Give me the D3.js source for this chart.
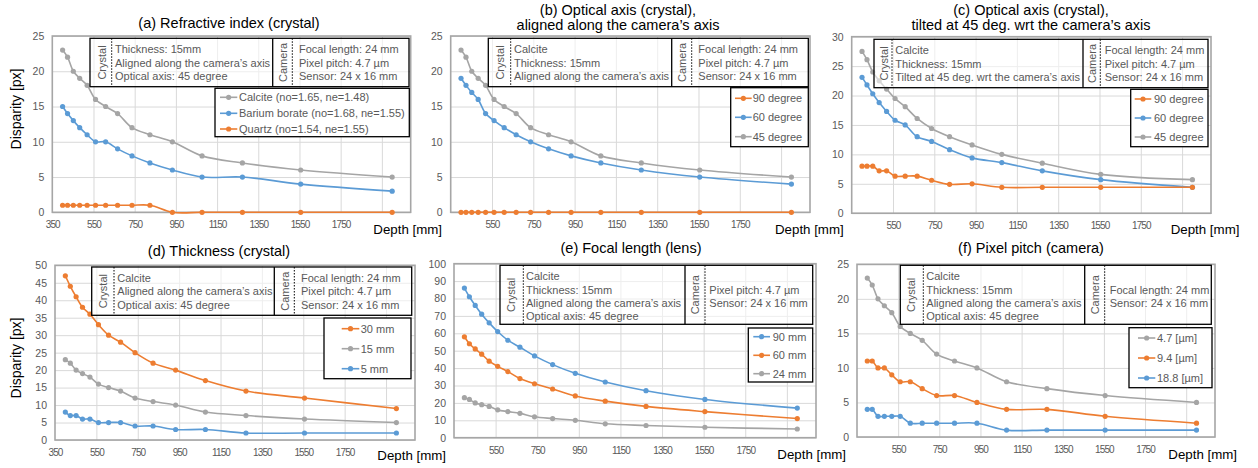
<!DOCTYPE html>
<html>
<head>
<meta charset="utf-8">
<script src="https://cdn.jsdelivr.net/npm/d3@7"></script>
<style>
  body { margin: 0; background: #fff; }
  svg { display: block; font-family: "Liberation Sans", Arial, sans-serif; }
</style>
</head>
<body>
<svg id="chart" width="1258" height="468"></svg>
<script>
// depth of the scene [mm], same for every panel
const depth = [400, 424, 452, 483, 519, 560, 609, 667, 737, 824, 933, 1077, 1273, 1556, 2000];
const xTicks = [350, 550, 750, 950, 1150, 1350, 1550, 1750, 1950];

// (a) refractive index
const legendA = ["Calcite (no=1.65, ne=1.48)", "Barium borate (no=1.68, ne=1.55)", "Quartz (no=1.54, ne=1.55)"];
const calciteA = [23, 22, 20, 19, 18, 16, 15, 14, 12, 11, 10, 8, 7, 6, 5];
const bariumA = [15, 14, 13, 12, 11, 10, 10, 9, 8, 7, 6, 5, 5, 4, 3];
const quartzA = [1, 1, 1, 1, 1, 1, 1, 1, 1, 1, 0, 0, 0, 0, 0];

// (b) optical axis, aligned
const legendB = ["90 degree", "60 degree", "45 degree"];
const deg90B = [0, 0, 0, 0, 0, 0, 0, 0, 0, 0, 0, 0, 0, 0, 0];
const deg60B = [19, 18, 17, 16, 14, 13, 12, 11, 10, 9, 8, 7, 6, 5, 4];
const deg45B = [23, 22, 20, 19, 18, 16, 15, 14, 12, 11, 10, 8, 7, 6, 5];

// (c) optical axis, tilted
const legendC = ["90 degree", "60 degree", "45 degree"];
const deg90C = [8.0, 8.0, 8.0, 7.2, 7.2, 6.3, 6.3, 6.3, 5.6, 4.9, 5.0, 4.4, 4.4, 4.4, 4.4];
const deg60C = [23.1, 21.8, 20.3, 18.8, 17.3, 15.8, 15.0, 13.0, 12.2, 10.8, 9.4, 8.6, 7.2, 5.7, 4.4];
const deg45C = [27.5, 26.1, 24.0, 22.5, 21.1, 19.5, 18.1, 16.1, 14.4, 13.0, 11.6, 10.0, 8.5, 6.6, 5.7];

// (d) thickness
const legendD = ["30 mm", "15 mm", "5 mm"];
const t30D = [47, 44, 41, 38, 36, 33, 30, 28, 25, 22, 20, 17, 14, 12, 9];
const t15D = [23, 22, 20, 19, 18, 16, 15, 14, 12, 11, 10, 8, 7, 6, 5];
const t5D = [8, 7, 7, 6, 6, 5, 5, 5, 4, 4, 3, 3, 2, 2, 2];

// (e) focal length
const legendE = ["90 mm", "60 mm", "24 mm"];
const f90E = [86, 81, 76, 71, 66, 61, 56, 52, 47, 42, 37, 32, 27, 22, 17];
const f60E = [58, 54, 51, 48, 44, 41, 38, 34, 31, 28, 24, 21, 18, 15, 11];
const f24E = [23, 22, 20, 19, 18, 16, 15, 14, 12, 11, 10, 8, 7, 6, 5];

// (f) pixel pitch
const legendF = ["4.7 [µm]", "9.4 [µm]", "18.8 [µm]"];
const p47F = [23, 22, 20, 19, 18, 16, 15, 14, 12, 11, 10, 8, 7, 6, 5];
const p94F = [11, 11, 10, 10, 9, 8, 8, 7, 6, 6, 5, 4, 4, 3, 2];
const p188F = [4, 4, 3, 3, 3, 3, 2, 2, 2, 2, 2, 1, 1, 1, 1];

const GRAY = "#a5a5a5", BLUE = "#5b9bd5", ORANGE = "#ed7d31";
const TXT = "#595959";

const svg = d3.select("#chart");

function drawPanel(p) {
  const g = svg.append("g");
  const x = d3.scaleLinear().domain([350, 2090]).range([p.left, p.right]);
  const y = d3.scaleLinear().domain([0, p.yMax]).range([p.bottom, p.top]);
  const yTicks = d3.range(0, p.yMax + p.yStep / 2, p.yStep);

  // gridlines
  g.append("g").attr("transform", `translate(${p.left},0)`)
    .call(d3.axisLeft(y).tickValues(yTicks).tickSize(-(p.right - p.left)).tickFormat(""))
    .call(a => a.select(".domain").remove())
    .selectAll("line").attr("stroke", "#d9d9d9");
  g.append("g").attr("transform", `translate(0,${p.bottom})`)
    .call(d3.axisBottom(x).tickValues(xTicks.slice(1)).tickSize(-(p.bottom - p.top)).tickFormat(""))
    .call(a => a.select(".domain").remove())
    .selectAll("line").attr("stroke", "#d9d9d9");

  // tick labels
  const ya = g.append("g").attr("transform", `translate(${p.left},0)`)
    .call(d3.axisLeft(y).tickValues(yTicks).tickSize(0).tickPadding(8));
  ya.select(".domain").remove();
  ya.attr("font-family", null).attr("font-size", null);
  ya.selectAll("text").attr("fill", TXT).style("font-size", "10.5px");

  const shown = xTicks.filter(t => t < 1950 && (p.show350 || t > 350));
  const xa = g.append("g").attr("transform", `translate(0,${p.bottom})`)
    .call(d3.axisBottom(x).tickValues(shown).tickFormat(d3.format("d")).tickSize(0).tickPadding(9));
  xa.select(".domain").remove();
  xa.attr("font-family", null).attr("font-size", null);
  xa.selectAll("text").attr("fill", TXT).style("font-size", "10px").style("letter-spacing", "-0.9px");

  // plot border
  g.append("rect")
    .attr("x", p.left).attr("y", p.top)
    .attr("width", p.right - p.left).attr("height", p.bottom - p.top)
    .attr("fill", "none").attr("stroke", "#a6a6a6").attr("stroke-width", 1.6);

  // series
  const line = d3.line()
    .x((d, i) => x(depth[i]))
    .y(d => y(d))
    .curve(d3.curveCatmullRom.alpha(0.5));
  p.series.forEach(s => {
    g.append("path").attr("d", line(s.values))
      .attr("fill", "none").attr("stroke", s.color).attr("stroke-width", 1.6);
    g.selectAll(null).data(s.values).join("circle")
      .attr("cx", (d, i) => x(depth[i])).attr("cy", d => y(d))
      .attr("r", 2.6).attr("fill", s.color);
  });

  // info box
  const b = p.box;
  g.append("rect").attr("x", b.x0).attr("y", b.y0)
    .attr("width", b.x1 - b.x0).attr("height", b.y1 - b.y0)
    .attr("fill", "#fff").attr("fill-opacity", 0.55)
    .attr("stroke", "#000").attr("stroke-width", 1.3);
  g.append("line").attr("x1", b.solid).attr("x2", b.solid).attr("y1", b.y0).attr("y2", b.y1)
    .attr("stroke", "#000").attr("stroke-width", 1.3);
  [b.dot1, b.dot2].forEach(dx => {
    g.append("line").attr("x1", dx).attr("x2", dx).attr("y1", b.y0).attr("y2", b.y1)
      .attr("stroke", "#000").attr("stroke-width", 1).attr("stroke-dasharray", "1.5,1.5");
  });
  const cy = (b.y0 + b.y1) / 2;
  [["Crystal", b.crysLbl], ["Camera", b.camLbl]].forEach(([t, lx]) => {
    g.append("text").attr("transform", `translate(${lx + 4},${cy}) rotate(-90)`)
      .attr("text-anchor", "middle").attr("fill", TXT).style("font-size", "11px").text(t);
  });
  b.crys.forEach((t, i) => {
    g.append("text").attr("x", b.crysX).attr("y", b.row0 + i * b.rowStep)
      .attr("fill", TXT).style("font-size", "11px").text(t);
  });
  b.cam.forEach((t, i) => {
    g.append("text").attr("x", b.camX).attr("y", b.row0 + (i + b.camStart) * b.rowStep)
      .attr("fill", TXT).style("font-size", "11px").text(t);
  });

  // legend
  const L = p.legend;
  g.append("rect").attr("x", L.x0).attr("y", L.y0)
    .attr("width", L.x1 - L.x0).attr("height", L.y1 - L.y0)
    .attr("fill", "#fff").attr("stroke", "#000").attr("stroke-width", 1.3);
  p.series.slice().sort((a, c) => a.order - c.order).forEach((s, i) => {
    const ry = L.rows[i];
    g.append("line").attr("x1", L.l0).attr("x2", L.l1).attr("y1", ry).attr("y2", ry)
      .attr("stroke", s.color).attr("stroke-width", 1.6);
    g.append("circle").attr("cx", (L.l0 + L.l1) / 2).attr("cy", ry).attr("r", 2.6).attr("fill", s.color);
    g.append("text").attr("x", L.tx).attr("y", ry + 4)
      .attr("fill", TXT).style("font-size", "11px").text(s.name);
  });

  // titles
  p.title.forEach((t, i) => {
    g.append("text").attr("x", p.titleX).attr("y", p.titleY + i * 14.5)
      .attr("text-anchor", "middle").attr("fill", "#000").style("font-size", "14.5px").text(t);
  });
  g.append("text").attr("x", p.depthX).attr("y", p.depthY)
    .attr("fill", "#000").style("font-size", "13.3px").text("Depth [mm]");
  if (p.dispY) {
    g.append("text").attr("transform", `translate(21,${p.dispY}) rotate(-90)`)
      .attr("text-anchor", "middle").attr("fill", "#000").style("font-size", "14px").text("Disparity [px]");
  }
}

const camFull = ["Focal length: 24 mm", "Pixel pitch: 4.7 µm", "Sensor: 24 x 16 mm"];

drawPanel({
  left: 52.3, right: 410.7, top: 36, bottom: 212.3, yMax: 25, yStep: 5, show350: true,
  title: ["(a) Refractive index (crystal)"], titleX: 229, titleY: 28,
  depthX: 373.3, depthY: 234, dispY: 109,
  series: [
    { name: legendA[0], values: calciteA, color: GRAY, order: 0 },
    { name: legendA[1], values: bariumA, color: BLUE, order: 1 },
    { name: legendA[2], values: quartzA, color: ORANGE, order: 2 }
  ],
  box: { x0: 90, x1: 409, y0: 38.3, y1: 86.7, solid: 272.7, dot1: 111.7, dot2: 292.3,
    crysLbl: 101.7, camLbl: 282.7, crysX: 115, camX: 299, row0: 53.3, rowStep: 13.4, camStart: 0,
    crys: ["Thickness: 15mm", "Aligned along the camera’s axis", "Optical axis: 45 degree"], cam: camFull },
  legend: { x0: 215, x1: 409.3, y0: 88.3, y1: 136.7, rows: [97.3, 113.3, 129], l0: 220, l1: 237.3, tx: 239 }
});

drawPanel({
  left: 450.7, right: 810, top: 36, bottom: 212.3, yMax: 25, yStep: 5, show350: false,
  title: ["(b) Optical axis (crystal),", "aligned along the camera’s axis"], titleX: 618, titleY: 15,
  depthX: 775, depthY: 234,
  series: [
    { name: legendB[2], values: deg45B, color: GRAY, order: 2 },
    { name: legendB[1], values: deg60B, color: BLUE, order: 1 },
    { name: legendB[0], values: deg90B, color: ORANGE, order: 0 }
  ],
  box: { x0: 488.3, x1: 808.3, y0: 38.3, y1: 86.7, solid: 671.7, dot1: 510.7, dot2: 691.7,
    crysLbl: 500, camLbl: 681.7, crysX: 514, camX: 698.3, row0: 53.3, rowStep: 13.4, camStart: 0,
    crys: ["Calcite", "Thickness: 15mm", "Aligned along the camera’s axis"], cam: camFull },
  legend: { x0: 730.7, x1: 808.3, y0: 87.7, y1: 146.7, rows: [98.3, 117.3, 136.7], l0: 735, l1: 751.7, tx: 752.7 }
});

drawPanel({
  left: 851.7, right: 1211, top: 36.7, bottom: 213.2, yMax: 30, yStep: 5, show350: false,
  title: ["(c) Optical axis (crystal),", "tilted at 45 deg. wrt the camera’s axis"], titleX: 1031, titleY: 15,
  depthX: 1170.7, depthY: 234,
  series: [
    { name: legendC[2], values: deg45C, color: GRAY, order: 2 },
    { name: legendC[1], values: deg60C, color: BLUE, order: 1 },
    { name: legendC[0], values: deg90C, color: ORANGE, order: 0 }
  ],
  box: { x0: 874, x1: 1208, y0: 39.3, y1: 87.7, solid: 1083, dot1: 892, dot2: 1100.3,
    crysLbl: 884, camLbl: 1091.5, crysX: 895.3, camX: 1104.7, row0: 54, rowStep: 13.6, camStart: 0,
    crys: ["Calcite", "Thickness: 15mm", "Tilted at 45 deg. wrt the camera’s axis"], cam: camFull },
  legend: { x0: 1130.7, x1: 1208, y0: 89.3, y1: 146.7, rows: [99, 118, 137], l0: 1134.7, l1: 1151.3, tx: 1154 }
});

drawPanel({
  left: 55, right: 415, top: 265.3, bottom: 440, yMax: 50, yStep: 5, show350: true,
  title: ["(d) Thickness (crystal)"], titleX: 219, titleY: 255.5,
  depthX: 377.3, depthY: 460, dispY: 358,
  series: [
    { name: legendD[1], values: t15D, color: GRAY, order: 1 },
    { name: legendD[2], values: t5D, color: BLUE, order: 2 },
    { name: legendD[0], values: t30D, color: ORANGE, order: 0 }
  ],
  box: { x0: 91.7, x1: 411.7, y0: 267, y1: 315.3, solid: 274.3, dot1: 114, dot2: 294.3,
    crysLbl: 103.3, camLbl: 285, crysX: 117.3, camX: 301, row0: 282, rowStep: 13.35, camStart: 0,
    crys: ["Calcite", "Aligned along the camera’s axis", "Optical axis: 45 degree"], cam: camFull },
  legend: { x0: 324, x1: 411, y0: 318, y1: 378.7, rows: [328.7, 348.7, 368.7], l0: 341.7, l1: 359.3, tx: 360.7 }
});

drawPanel({
  left: 454, right: 816, top: 263.7, bottom: 437.7, yMax: 100, yStep: 10, show350: false,
  title: ["(e) Focal length (lens)"], titleX: 631, titleY: 253,
  depthX: 777.3, depthY: 458.5,
  series: [
    { name: legendE[2], values: f24E, color: GRAY, order: 2 },
    { name: legendE[1], values: f60E, color: ORANGE, order: 1 },
    { name: legendE[0], values: f90E, color: BLUE, order: 0 }
  ],
  box: { x0: 500, x1: 812.7, y0: 265.3, y1: 324.3, solid: 685, dot1: 523.3, dot2: 705,
    crysLbl: 510.7, camLbl: 695, crysX: 526, camX: 709.3, row0: 280.3, rowStep: 13.25, camStart: 1,
    crys: ["Calcite", "Thickness: 15mm", "Aligned along the camera’s axis", "Optical axis: 45 degree"],
    cam: ["Pixel pitch: 4.7 µm", "Sensor: 24 x 16 mm"] },
  legend: { x0: 748.3, x1: 812.7, y0: 328, y1: 382, rows: [336.7, 355.3, 373.7], l0: 753.3, l1: 770, tx: 772.7 }
});

drawPanel({
  left: 857, right: 1215, top: 264.3, bottom: 437, yMax: 25, yStep: 5, show350: false,
  title: ["(f) Pixel pitch (camera)"], titleX: 1031, titleY: 253,
  depthX: 1168.3, depthY: 458.5,
  series: [
    { name: legendF[0], values: p47F, color: GRAY, order: 0 },
    { name: legendF[1], values: p94F, color: ORANGE, order: 1 },
    { name: legendF[2], values: p188F, color: BLUE, order: 2 }
  ],
  box: { x0: 900.3, x1: 1211.3, y0: 265.3, y1: 324.3, solid: 1084.7, dot1: 923.3, dot2: 1104.7,
    crysLbl: 911.3, camLbl: 1094.7, crysX: 926.3, camX: 1109.7, row0: 280.3, rowStep: 13.25, camStart: 1,
    crys: ["Calcite", "Thickness: 15mm", "Aligned along the camera’s axis", "Optical axis: 45 degree"],
    cam: ["Focal length: 24 mm", "Sensor: 24 x 16 mm"] },
  legend: { x0: 1129, x1: 1212, y0: 327.7, y1: 387.7, rows: [338, 358, 378], l0: 1138, l1: 1155.3, tx: 1157 }
});
</script>
</body>
</html>
